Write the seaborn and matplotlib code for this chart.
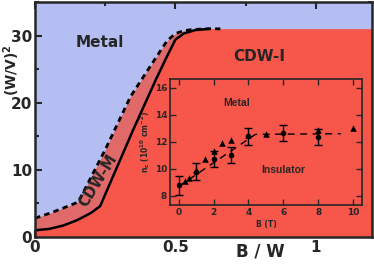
import numpy as np
import matplotlib
matplotlib.use("Agg")
from matplotlib import pyplot as plt
from matplotlib.ticker import MultipleLocator
import seaborn as sns

# phase boundaries, main panel (x = B/W, y = (W/V)^2)
upper_x = [0.0, 0.05, 0.10, 0.154, 0.25, 0.34, 0.41, 0.47, 0.50, 0.53, 0.56, 0.62, 0.66, 1.20]
upper_y = [2.8, 3.5, 4.3, 5.2, 13.0, 20.9, 25.4, 29.2, 30.3, 30.7, 30.9, 31.0, 31.0, 31.0]
lower_x = [0.0, 0.05, 0.10, 0.15, 0.20, 0.232, 0.35, 0.43, 0.47, 0.50, 0.53, 0.57, 0.62, 0.70, 1.20]
lower_y = [1.0, 1.2, 1.7, 2.5, 3.6, 4.6, 16.0, 23.4, 26.9, 29.4, 30.3, 30.8, 31.0, 31.0, 31.0]

# inset: critical density vs field
circ_B = [0, 1, 2, 3, 4, 6, 8]
circ_n = [8.8, 9.8, 10.74, 11.04, 12.4, 12.64, 12.35]
circ_err = [0.7, 0.6, 0.6, 0.6, 0.6, 0.6, 0.6]
tri_B = [0.35, 0.6, 1.0, 1.5, 2.0, 2.5, 3.0, 4.0, 5.0, 8.0, 10.0]
tri_n = [9.1, 9.3, 9.95, 10.7, 11.35, 11.9, 12.15, 12.5, 12.57, 12.84, 13.0]
fit_B = [0.0, 4.4, 9.3]
fit_n = [8.7, 12.55, 12.6]

blue = '#b5bef2'
red = '#f7564b'
pink = '#e0696a'

sns.set_style('ticks')
plt.rcParams['font.family'] = ['DejaVu Sans']

fig = plt.figure(figsize=(3.74, 2.65), dpi=100)
ax = fig.add_axes([0.0936, 0.1057, 0.901, 0.887])
ax.set_facecolor(blue)

ax.fill_between(upper_x, upper_y, 0, color=pink, lw=0)
ax.fill_between(lower_x, lower_y, 0, color=red, lw=0)
sns.lineplot(x=upper_x[:-1], y=upper_y[:-1], ax=ax, color='black', lw=2, sort=False,
             estimator=None, linestyle=(0, (2, 1.5)))
sns.lineplot(x=lower_x[:-2], y=lower_y[:-2], ax=ax, color='black', lw=1.8,
             sort=False, estimator=None)

ax.set_xlim(0, 1.2)
ax.set_ylim(0, 35)
ax.xaxis.set_major_locator(MultipleLocator(0.5))
ax.xaxis.set_minor_locator(MultipleLocator(0.25))
ax.yaxis.set_major_locator(MultipleLocator(10))
ax.yaxis.set_minor_locator(MultipleLocator(5))
ax.set_xticks([0, 0.5, 1])
ax.set_xticklabels(['0', '0.5', '1'])
ax.tick_params(which='both', direction='in', top=True, right=True, width=1.5)
ax.tick_params(which='major', length=5, labelsize=11, pad=2)
ax.tick_params(which='minor', length=3)
for lab in ax.get_xticklabels() + ax.get_yticklabels():
    lab.set_fontweight('bold')
for sp in ax.spines.values():
    sp.set_linewidth(1.8)

ax.set_xlabel('B / W', fontsize=12, fontweight='bold')
ax.xaxis.set_label_coords(0.67, -0.025)
ax.set_ylabel('(W/V)$^\\mathbf{2}$', fontsize=10, fontweight='bold')
ax.yaxis.set_label_coords(-0.04, 0.71)

ax.text(0.23, 29, 'Metal', fontsize=11, fontweight='bold', ha='center', va='center')
ax.text(0.80, 26.9, 'CDW-I', fontsize=11, fontweight='bold', ha='center', va='center')
ax.text(0.225, 8.4, 'CDW-M', fontsize=10.5, fontweight='bold', ha='center', va='center',
        rotation=58)

# inset
ins = fig.add_axes([0.4545, 0.2264, 0.513, 0.4755])
ins.set_facecolor(red)
sns.lineplot(x=fit_B, y=fit_n, ax=ins, color='black', lw=1, estimator=None,
             sort=False, linestyle=(0, (5, 4)))
ins.errorbar(circ_B, circ_n, yerr=circ_err, fmt='none', ecolor='black',
             elinewidth=1, capsize=3, capthick=1)
sns.scatterplot(x=circ_B, y=circ_n, ax=ins, color='black', marker='o', s=16,
                edgecolor='black', linewidth=0)
sns.scatterplot(x=tri_B, y=tri_n, ax=ins, color='black', marker='^', s=22,
                edgecolor='black', linewidth=0)
ins.set_xlim(-0.5, 10.5)
ins.set_ylim(7.33, 16.64)
ins.set_xticks([0, 2, 4, 6, 8, 10])
ins.set_yticks([8, 10, 12, 14, 16])
ins.tick_params(direction='in', top=True, right=True, length=4, width=1,
                labelsize=6.5, pad=2)
for lab in ins.get_xticklabels() + ins.get_yticklabels():
    lab.set_fontweight('bold')
for sp in ins.spines.values():
    sp.set_linewidth(1.2)
ins.set_xlabel('B (T)', fontsize=5.5, fontweight='bold', labelpad=2)
ins.set_ylabel('n$_\\mathbf{c}$ (10$^\\mathbf{10}$ cm$^\\mathbf{-2}$)', fontsize=5.5,
               fontweight='bold', labelpad=2)
ins.text(3.3, 14.9, 'Metal', fontsize=7.5, fontweight='bold', ha='center', va='center',
         family='Liberation Sans')
ins.text(6.0, 9.95, 'Insulator', fontsize=7.5, fontweight='bold', ha='center',
         va='center', family='Liberation Sans')

fig.savefig('out.png', dpi=100)
